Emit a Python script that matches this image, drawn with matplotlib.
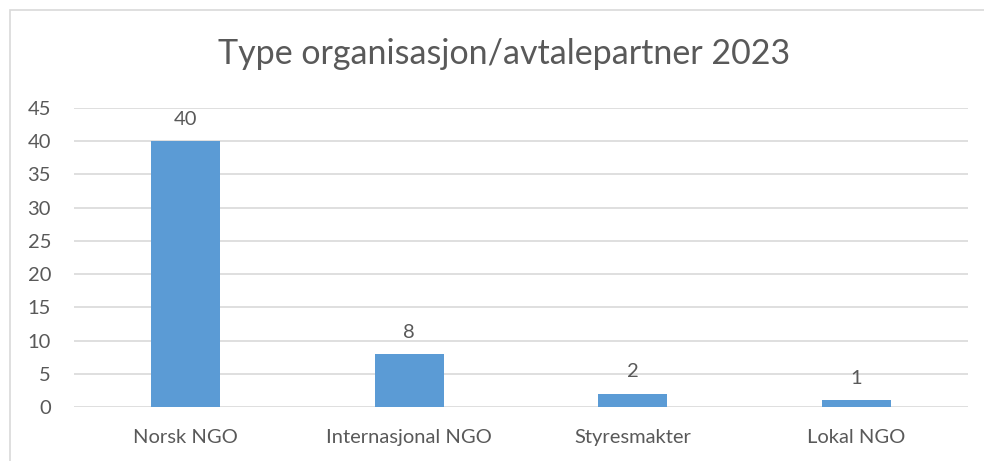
import matplotlib.pyplot as plt
from matplotlib.patches import Rectangle

categories = ['Norsk NGO', 'Internasjonal NGO', 'Styresmakter', 'Lokal NGO']
values = [40, 8, 2, 1]
yticks = [0, 5, 10, 15, 20, 25, 30, 35, 40, 45]

plt.rcParams['font.family'] = ['Lato', 'DejaVu Sans']
txt = '#595959'
grid = '#D9D9D9'

fig = plt.figure(figsize=(9.84, 4.61), dpi=100)
ax = fig.add_axes([0.0752, 0.1171, 0.9085, 0.6486])

# light frame round the chart, open at right and bottom like the crop
fig.patches.append(Rectangle((10 / 984, -0.1), 1.2, (461 - 10) / 461 + 0.1,
                             transform=fig.transFigure, fill=False,
                             edgecolor=grid, linewidth=1.2))

x = range(len(categories))
bars = ax.bar(x, values, width=0.31, color='#5B9BD5', zorder=3)
for b, v in zip(bars, values):
    ax.text(b.get_x() + b.get_width() / 2, v + 2.0, str(v), ha='center',
            va='bottom', fontsize=14.5, color=txt)

ax.set_xlim(-0.5, len(categories) - 0.5)
ax.set_ylim(0, 45)
ax.set_yticks(yticks)
ax.set_xticks(list(x))
ax.set_xticklabels(categories)
ax.yaxis.grid(True, color=grid, linewidth=1.2, zorder=0)
ax.tick_params(length=0, labelsize=14.5, colors=txt)
ax.tick_params(axis='y', pad=16.5)
ax.tick_params(axis='x', pad=16)
for s in ax.spines.values():
    s.set_visible(False)

fig.text(504 / 984, 1 - 54 / 461, 'Type organisasjon/avtalepartner 2023',
         ha='center', va='center', fontsize=24.5, color=txt)

plt.savefig('out.png', dpi=100)
